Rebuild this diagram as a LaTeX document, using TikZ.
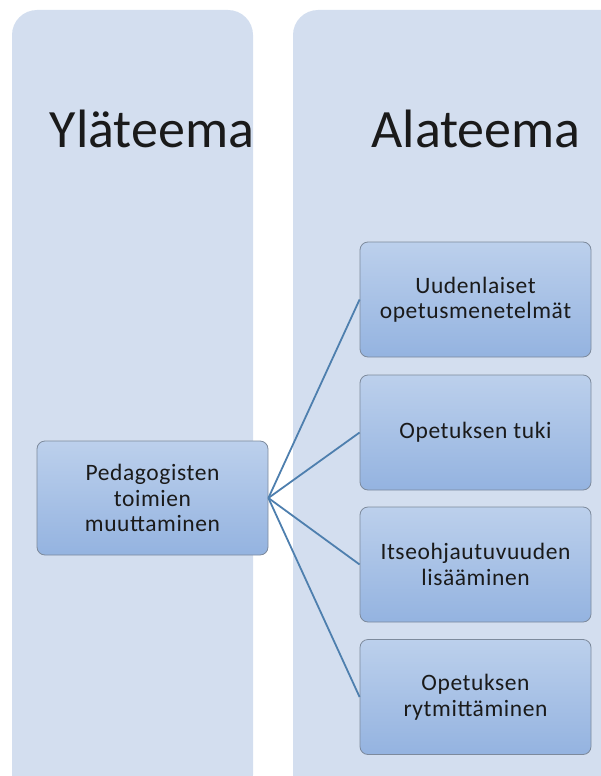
\documentclass[tikz,border=0pt]{standalone}
\usepackage{fontspec}
\setmainfont{Carlito}
\newfontfamily\boxfont[LetterSpace=2.5]{Carlito}

\definecolor{colfill}{HTML}{D3DEEF}
\definecolor{boxtop}{HTML}{BCD0EC}
\definecolor{boxbot}{HTML}{94B3E0}
\definecolor{boxline}{HTML}{7D8A9C}
\definecolor{linkblue}{HTML}{4E7FAE}
\definecolor{textgrey}{HTML}{1A1A1A}

\begin{document}
\begin{tikzpicture}[x=1pt, y=-1pt,
    column/.style={fill=colfill, rounded corners=25pt},
    themebox/.style={draw=boxline, line width=0.8pt, rounded corners=8pt,
        top color=boxtop, bottom color=boxbot,
        minimum width=231pt, minimum height=115pt, inner sep=0pt,
        align=center, text=textgrey, font=\boxfont\fontsize{23.5}{25.5}\selectfont},
    title/.style={font=\fontsize{54}{60}\selectfont, text=textgrey, anchor=base},
    link/.style={draw=linkblue, line width=1.8pt}]
    \useasboundingbox (0,0) rectangle (601,776);
    \clip (0,0) rectangle (601,776);

    % the two columns
    \fill[column] (12,10) rectangle (253,800);
    \fill[column] (293,10) rectangle (659,800);
    \node[title] (yla) at (152,147) {Yläteema};
    \node[title] (ala) at (476,147) {Alateema};

    % upper theme
    \node[themebox, minimum height=114pt] (pedag) at (152.5,498) {Pedagogisten\\toimien\\muuttaminen};

    % sub themes
    \node[themebox] (sub1) at (475.5,299.5) {Uudenlaiset\\opetusmenetelmät};
    \node[themebox] (sub2) at (475.5,432.5) {Opetuksen tuki};
    \node[themebox] (sub3) at (475.5,564.5) {Itseohjautuvuuden\\lisääminen};
    \node[themebox] (sub4) at (475.5,697) {Opetuksen\\rytmittäminen};

    \foreach \s in {sub1,sub2,sub3,sub4}
        \draw[link] (pedag.east) -- (\s.west);
\end{tikzpicture}
\end{document}
